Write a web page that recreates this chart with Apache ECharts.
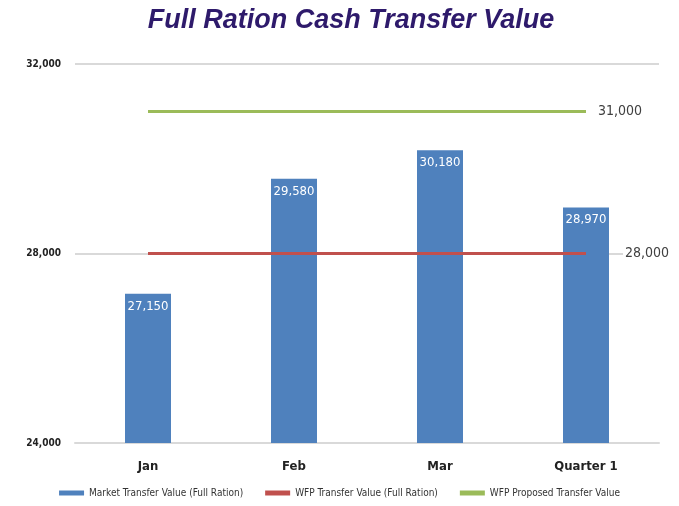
<!DOCTYPE html>
<html>
<head>
    <meta charset="utf-8">
    <style>
        body { margin: 0; background-color: #fff; }
        #main { width: 679px; height: 506px; }
    </style>
</head>
<body>
    <div id="main"></div>
    <script src="https://cdn.jsdelivr.net/npm/echarts@6/dist/echarts.min.js"></script>
    <script type="text/javascript">
        var months = ['Jan', 'Feb', 'Mar', 'Quarter 1'];
        var marketValue = [27150, 29580, 30180, 28970];
        var wfpValue = [28000, 28000, 28000, 28000];
        var proposedValue = [31000, 31000, 31000, 31000];

        var myChart = echarts.init(document.getElementById('main'));

        function fmt(v) {
            return v.toString().replace(/\B(?=(\d{3})+(?!\d))/g, ',');
        }

        var option = {
            backgroundColor: '#fff',
            title: {
                text: 'Full Ration Cash Transfer Value',
                left: 346,
                textAlign: 'center',
                top: 2,
                textStyle: {
                    fontFamily: 'Liberation Sans, Arial, sans-serif',
                    fontSize: 27,
                    fontWeight: 'bold',
                    fontStyle: 'italic',
                    color: '#2e1a6b'
                }
            },
            legend: {
                bottom: 3,
                left: 'center',
                itemWidth: 25,
                itemHeight: 5,
                itemGap: 22,
                textStyle: { fontSize: 10, color: '#333', fontFamily: 'DejaVu Sans Condensed, sans-serif' },
                data: [
                    { name: 'Market Transfer Value (Full Ration)', icon: 'rect' },
                    { name: 'WFP Transfer Value (Full Ration)', icon: 'rect' },
                    { name: 'WFP Proposed Transfer Value', icon: 'rect' }
                ]
            },
            grid: { left: 75, right: 20, top: 64, bottom: 63 },
            xAxis: {
                type: 'category',
                data: months,
                axisLine: { lineStyle: { color: '#d9d9d9', width: 2 } },
                axisTick: { show: false },
                axisLabel: {
                    margin: 17,
                    fontSize: 13,
                    fontWeight: 'bold',
                    color: '#222',
                    fontFamily: 'DejaVu Sans Condensed, sans-serif'
                }
            },
            yAxis: {
                type: 'value',
                min: 24000,
                max: 32000,
                interval: 4000,
                axisLine: { show: false },
                axisTick: { show: false },
                splitLine: { lineStyle: { color: '#d9d9d9', width: 2 } },
                axisLabel: {
                    formatter: fmt,
                    fontSize: 10,
                    fontWeight: 'bold',
                    color: '#222',
                    margin: 14,
                    fontFamily: 'DejaVu Sans Condensed, sans-serif'
                }
            },
            series: [
                {
                    name: 'Market Transfer Value (Full Ration)',
                    type: 'bar',
                    data: marketValue,
                    barWidth: 46,
                    itemStyle: { color: '#4f81bd' },
                    label: {
                        show: true,
                        position: 'insideTop',
                        distance: 6,
                        color: '#fff',
                        fontSize: 13,
                        fontFamily: 'DejaVu Sans Condensed, sans-serif',
                        formatter: function (p) { return fmt(p.value); }
                    }
                },
                {
                    name: 'WFP Transfer Value (Full Ration)',
                    type: 'line',
                    data: wfpValue,
                    symbol: 'none',
                    lineStyle: { color: '#c0504d', width: 3 },
                    itemStyle: { color: '#c0504d' },
                    endLabel: {
                        show: true,
                        distance: 37,
                        color: '#404040',
                        fontSize: 14,
                        backgroundColor: '#fff',
                        padding: [0, 2],
                        fontFamily: 'DejaVu Sans Condensed, sans-serif',
                        formatter: function (p) { return fmt(p.value); }
                    },
                    z: 3
                },
                {
                    name: 'WFP Proposed Transfer Value',
                    type: 'line',
                    data: proposedValue,
                    symbol: 'none',
                    lineStyle: { color: '#9bbb59', width: 3 },
                    itemStyle: { color: '#9bbb59' },
                    endLabel: {
                        show: true,
                        distance: 12,
                        color: '#404040',
                        fontSize: 14,
                        fontFamily: 'DejaVu Sans Condensed, sans-serif',
                        formatter: function (p) { return fmt(p.value); }
                    },
                    z: 3
                }
            ]
        };

        myChart.setOption(option);
    </script>
</body>
</html>
